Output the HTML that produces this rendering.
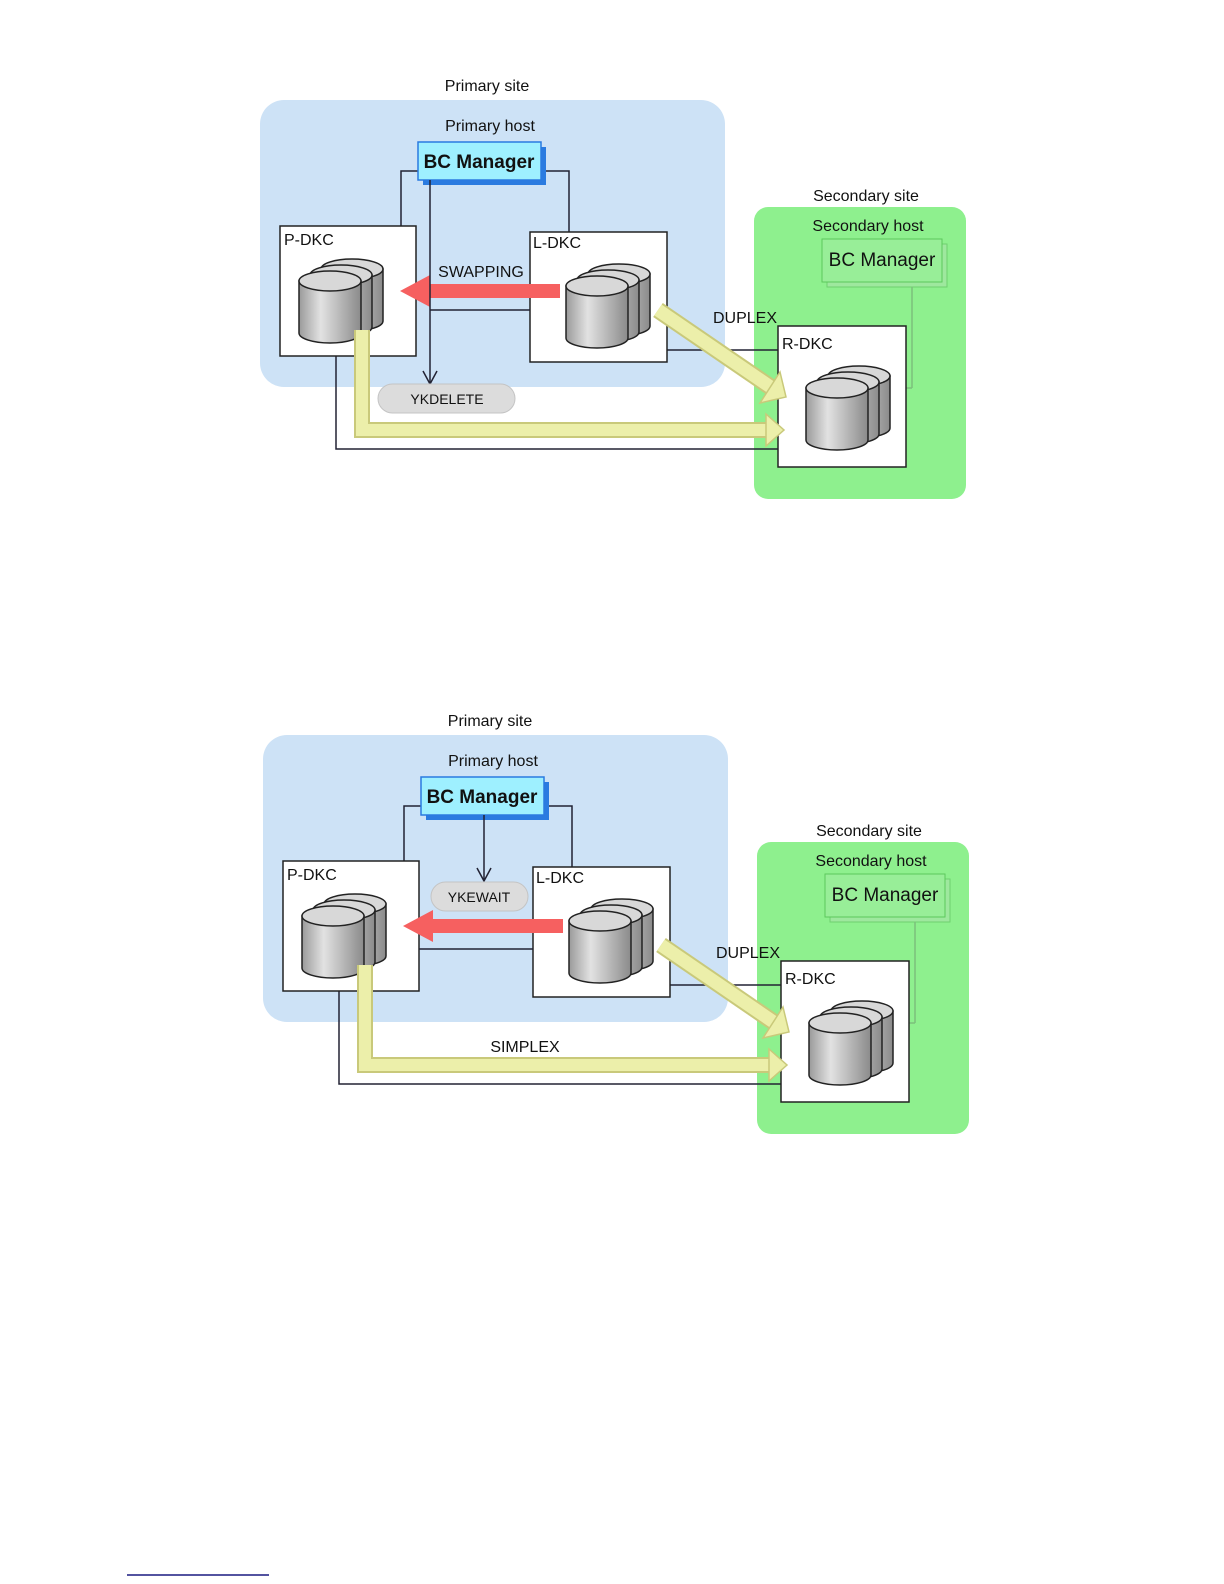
<!DOCTYPE html>
<html><head><meta charset="utf-8"><style>
html,body{margin:0;padding:0;background:#fff}
svg{display:block}
text{font-family:"Liberation Sans",sans-serif;}
</style></head><body>
<svg width="1224" height="1584" viewBox="0 0 1224 1584" xmlns="http://www.w3.org/2000/svg">
<defs>
<linearGradient id="cg" x1="0" x2="1" y1="0" y2="0">
<stop offset="0" stop-color="#9a9a9a"/><stop offset="0.35" stop-color="#e2e2e2"/><stop offset="1" stop-color="#8a8a8a"/>
</linearGradient>
<g id="cyl">
<path d="M0,10 L0,62 A31,10 0 0 0 62,62 L62,10 Z" fill="url(#cg)" stroke="#222" stroke-width="1.5"/>
<ellipse cx="31" cy="10" rx="31" ry="10" fill="#d8d8d8" stroke="#222" stroke-width="1.5"/>
</g>
<g id="stack">
<use href="#cyl" x="22" y="-12"/>
<use href="#cyl" x="11" y="-6"/>
<use href="#cyl" x="0" y="0"/>
</g>
<g id="common">
<!-- primary site -->
<text x="487" y="91" font-size="16" text-anchor="middle" fill="#111">Primary site</text>
<rect x="260" y="100" width="465" height="287" rx="24" fill="#cde2f6"/>
<text x="490" y="131" font-size="16" text-anchor="middle" fill="#111">Primary host</text>
<!-- secondary site -->
<text x="866" y="201" font-size="16" text-anchor="middle" fill="#111">Secondary site</text>
<rect x="754" y="207" width="212" height="292" rx="14" fill="#8ef08e"/>
<text x="868" y="231" font-size="16" text-anchor="middle" fill="#111">Secondary host</text>
<rect x="827" y="244" width="120" height="43" fill="#9ee89e" stroke="#6fd06f"/>
<rect x="822" y="239" width="120" height="43" fill="#98ee98" stroke="#5cc85c"/>
<text x="882" y="266" font-size="19" text-anchor="middle" fill="#111">BC Manager</text>
<line x1="912" y1="287" x2="912" y2="388" stroke="#7cc07c" stroke-width="1.5"/>
<line x1="906" y1="388" x2="912" y2="388" stroke="#7cc07c" stroke-width="1.5"/>
<!-- connection lines -->
<polyline points="418,171 401,171 401,226" fill="none" stroke="#223" stroke-width="1.5"/>
<polyline points="540,171 569,171 569,232" fill="none" stroke="#223" stroke-width="1.5"/>
<polyline points="336,356 336,449 778,449" fill="none" stroke="#223" stroke-width="1.5"/>
<line x1="667" y1="350" x2="778" y2="350" stroke="#223" stroke-width="1.5"/>
<!-- BC manager primary -->
<rect x="423" y="147" width="123" height="38" fill="#2a7be0"/>
<rect x="418" y="142" width="123" height="38" fill="#9ef0ff" stroke="#2a7be0" stroke-width="1.5"/>
<text x="479" y="168" font-size="19" font-weight="bold" text-anchor="middle" fill="#111">BC Manager</text>
<!-- DKC boxes -->
<rect x="280" y="226" width="136" height="130" fill="#fff" stroke="#222" stroke-width="1.5"/>
<text x="284" y="245" font-size="16" fill="#111">P-DKC</text>
<use href="#stack" x="299" y="271"/>
<rect x="530" y="232" width="137" height="130" fill="#fff" stroke="#222" stroke-width="1.5"/>
<text x="533" y="248" font-size="16" fill="#111">L-DKC</text>
<use href="#stack" x="566" y="276"/>
<rect x="778" y="326" width="128" height="141" fill="#fff" stroke="#222" stroke-width="1.5"/>
<text x="782" y="349" font-size="16" fill="#111">R-DKC</text>
<use href="#stack" x="806" y="378"/>
<!-- red arrow -->
<polygon points="560,284 430,284 430,275 400,291 430,307 430,298 560,298" fill="#f66060"/>
<!-- yellow arrows -->
<polyline points="362,330 362,430 768,430" fill="none" stroke="#c9c97a" stroke-width="16" stroke-linejoin="miter"/>
<polyline points="362,330 362,430 768,430" fill="none" stroke="#ecefaa" stroke-width="12" stroke-linejoin="miter"/>
<polygon points="766,414 784,430 766,446" fill="#ecefaa" stroke="#c9c97a" stroke-width="1.5"/>
<line x1="658" y1="310" x2="772" y2="388" stroke="#c9c97a" stroke-width="17"/>
<line x1="658" y1="310" x2="772" y2="388" stroke="#ecefaa" stroke-width="13"/>
<polygon points="760,403 786,397 780,372" fill="#ecefaa" stroke="#c9c97a" stroke-width="1.5"/>
<text x="745" y="323" font-size="16" text-anchor="middle" fill="#111">DUPLEX</text>
</g>
</defs>

<!-- Diagram 1 -->
<use href="#common"/>
<line x1="430" y1="180" x2="430" y2="383" stroke="#223" stroke-width="1.5"/>
<polyline points="423,371 430,384 437,371" fill="none" stroke="#223" stroke-width="1.5"/>
<line x1="430" y1="310" x2="530" y2="310" stroke="#223" stroke-width="1.5"/>
<text x="481" y="277" font-size="16" text-anchor="middle" fill="#111">SWAPPING</text>
<rect x="378" y="384" width="137" height="29" rx="14.5" fill="#dcdcdc" stroke="#c4c4c4"/>
<text x="447" y="404" font-size="14" text-anchor="middle" fill="#111">YKDELETE</text>

<!-- Diagram 2 -->
<g transform="translate(3,635)">
<use href="#common"/>
<line x1="416" y1="314" x2="530" y2="314" stroke="#223" stroke-width="1.5"/>
<line x1="481" y1="180" x2="481" y2="245" stroke="#223" stroke-width="1.5"/>
<polyline points="474,233 481,246 488,233" fill="none" stroke="#223" stroke-width="1.5"/>
<rect x="428" y="247" width="97" height="29" rx="14.5" fill="#dcdcdc" stroke="#c4c4c4"/>
<text x="476" y="267" font-size="14" text-anchor="middle" fill="#111">YKEWAIT</text>
<text x="522" y="417" font-size="16" text-anchor="middle" fill="#111">SIMPLEX</text>
</g>

<line x1="127" y1="1575" x2="269" y2="1575" stroke="#1a1a80" stroke-width="1.5"/>
</svg>
</body></html>
